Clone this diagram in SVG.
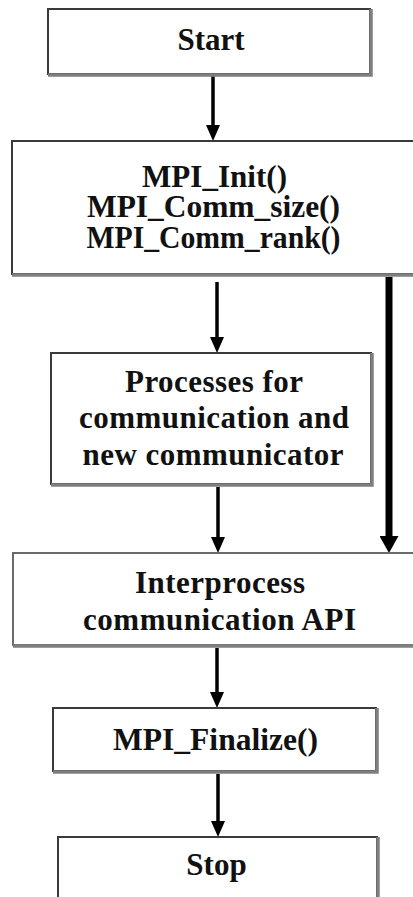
<svg xmlns="http://www.w3.org/2000/svg" width="413" height="897" viewBox="0 0 413 897">
<style>
.box{fill:#fff;stroke:#3a3a3a;stroke-width:2}
.sh{fill:none;stroke:#7f7f7f;stroke-width:3.5}
.t{font-family:"Liberation Serif","Times New Roman",serif;font-weight:bold;font-size:31px;fill:#111;text-anchor:middle}
.c{stroke:#000;stroke-width:3.5;fill:none}
.ck{stroke:#000;stroke-width:7;fill:none}
</style>
<defs>
<marker id="ah" markerUnits="userSpaceOnUse" markerWidth="16" markerHeight="14" viewBox="0 0 16 14" refX="0" refY="7" orient="auto">
<path d="M0,0 L16,7 L0,14 z" fill="#000"/>
</marker>
<marker id="ahk" markerUnits="userSpaceOnUse" markerWidth="17" markerHeight="19" viewBox="0 0 17 19" refX="0" refY="9.5" orient="auto">
<path d="M0,0 L17,9.5 L0,19 z" fill="#000"/>
</marker>
</defs>
<rect width="413" height="897" fill="#fff"/>
<g id="connectors">
<line class="c" x1="213" y1="76" x2="213" y2="125" marker-end="url(#ah)"/>
<line class="c" x1="217" y1="282" x2="217" y2="337" marker-end="url(#ah)"/>
<line class="c" x1="218" y1="487" x2="218" y2="537" marker-end="url(#ah)"/>
<line class="c" x1="217" y1="648" x2="217" y2="692" marker-end="url(#ah)"/>
<line class="c" x1="218" y1="774" x2="218" y2="821" marker-end="url(#ah)"/>
<line class="ck" x1="389" y1="277" x2="389" y2="536" marker-end="url(#ahk)"/>
</g>
<g id="start">
<rect class="box" x="48" y="9" width="322" height="65"/>
<polyline class="sh" points="48,75 371,75 371,9"/>
<text class="t" x="211" y="50">Start</text>
</g>
<g id="init">
<rect class="box" x="12" y="141" width="410" height="133"/>
<polyline class="sh" points="12,275 420,275"/>
<text class="t" x="214.5" y="187" textLength="145" lengthAdjust="spacingAndGlyphs">MPI_Init()</text>
<text class="t" x="213.5" y="217" textLength="253" lengthAdjust="spacingAndGlyphs">MPI_Comm_size()</text>
<text class="t" x="213.5" y="248" textLength="254" lengthAdjust="spacingAndGlyphs">MPI_Comm_rank()</text>
</g>
<g id="processes">
<rect class="box" x="51" y="353" width="320" height="131"/>
<polyline class="sh" points="51,485 372,485 372,353"/>
<text class="t" x="214" y="392" textLength="178" lengthAdjust="spacing">Processes for</text>
<text class="t" x="214" y="428" textLength="270" lengthAdjust="spacing">communication and</text>
<text class="t" x="213" y="465" textLength="261" lengthAdjust="spacing">new communicator</text>
</g>
<g id="interprocess">
<rect class="box" x="13" y="553" width="410" height="92" style="stroke:#6a6a6a"/>
<polyline class="sh" points="13,646 420,646"/>
<text class="t" x="220" y="593" textLength="170" lengthAdjust="spacing">Interprocess</text>
<text class="t" x="219.5" y="630" textLength="273" lengthAdjust="spacing">communication API</text>
</g>
<g id="finalize">
<rect class="box" x="53" y="708" width="323" height="63"/>
<polyline class="sh" points="53,772 377,772 377,708"/>
<text class="t" x="215.5" y="750" textLength="205" lengthAdjust="spacingAndGlyphs">MPI_Finalize()</text>
</g>
<g id="stop">
<rect class="box" x="58" y="837" width="319" height="80"/>
<polyline class="sh" points="378,837 378,900"/>
<text class="t" x="216.5" y="875">Stop</text>
</g>
</svg>
